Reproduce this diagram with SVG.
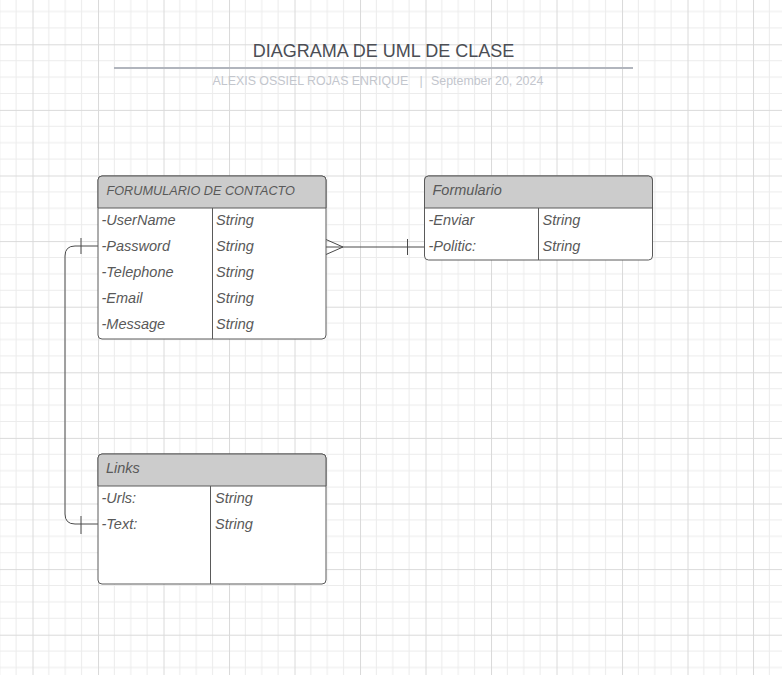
<svg xmlns="http://www.w3.org/2000/svg" width="782" height="675" viewBox="0 0 782 675">
<defs>
<pattern id="grid" patternUnits="userSpaceOnUse" x="32.5" y="44.3" width="65.5" height="65.6">
<rect width="65.5" height="65.6" fill="#ffffff"/>
<path d="M16.375 0V65.6M32.75 0V65.6M49.125 0V65.6M0 16.4H65.5M0 32.8H65.5M0 49.2H65.5" stroke="#ececec" stroke-width="1" fill="none"/>
<path d="M0.5 0V65.6M0 0.5H65.5" stroke="#dadada" stroke-width="1" fill="none"/>
</pattern>
<style>
.box{fill:#ffffff;stroke:#5a5a5a;stroke-width:1}
.hdr{fill:#cccccc;stroke:#5a5a5a;stroke-width:1}
.sep{stroke:#5a5a5a;stroke-width:1;fill:none}
.t{font-family:"Liberation Sans",Arial,sans-serif;font-style:italic;font-size:14.5px;fill:#595959}
.h{font-family:"Liberation Sans",Arial,sans-serif;font-style:italic;font-size:14.5px;fill:#595959}
.conn{stroke:#4a4a4a;stroke-width:1;fill:none}
</style>
</defs>
<rect width="782" height="675" fill="url(#grid)"/>
<g id="title">
<text x="383.5" y="57" text-anchor="middle" font-family="'Liberation Sans',Arial,sans-serif" font-size="18" fill="#4b4e55">DIAGRAMA DE UML DE CLASE</text>
<line x1="114" y1="68" x2="633" y2="68" stroke="#b1b5bd" stroke-width="2"/>
<text y="84.5" font-family="'Liberation Sans',Arial,sans-serif" font-size="12.4" fill="#c3c6cd"><tspan x="212.5">ALEXIS OSSIEL ROJAS ENRIQUE</tspan><tspan x="419.5">|</tspan><tspan x="431">September 20, 2024</tspan></text>
</g>
<g id="connectors">
<path class="conn" d="M326 247H424"/>
<path class="conn" d="M326 239.5L343 247L326 254.5"/>
<path class="conn" d="M407.5 239V255"/>
<path class="conn" d="M98 246H75Q65 246 65 256V514Q65 524 75 524H98"/>
<path class="conn" d="M81 238V254"/>
<path class="conn" d="M81 516V534"/>
</g>
<g id="node-contacto">
<rect class="box" x="98" y="176" width="228" height="163" rx="4"/>
<path class="hdr" d="M102 176H322A4 4 0 0 1 326 180V208H98V180A4 4 0 0 1 102 176Z"/>
<line class="sep" x1="212.5" y1="208" x2="212.5" y2="339"/>
<text x="106.5" y="195" class="h" style="font-size:12.7px">FORUMULARIO DE CONTACTO</text>
<text class="t" x="101.5" y="225">-UserName</text><text class="t" x="216" y="225">String</text>
<text class="t" x="101.5" y="251">-Password</text><text class="t" x="216" y="251">String</text>
<text class="t" x="101.5" y="277">-Telephone</text><text class="t" x="216" y="277">String</text>
<text class="t" x="101.5" y="303">-Email</text><text class="t" x="216" y="303">String</text>
<text class="t" x="101.5" y="329">-Message</text><text class="t" x="216" y="329">String</text>
</g>
<g id="node-formulario">
<rect class="box" x="424.5" y="176" width="228" height="84" rx="4"/>
<path class="hdr" d="M428.5 176H648.5A4 4 0 0 1 652.5 180V208H424.5V180A4 4 0 0 1 428.5 176Z"/>
<line class="sep" x1="538.5" y1="208" x2="538.5" y2="260"/>
<text x="432.5" y="195" class="h">Formulario</text>
<text class="t" x="428.5" y="225">-Enviar</text><text class="t" x="542.5" y="225">String</text>
<text class="t" x="428.5" y="251">-Politic:</text><text class="t" x="542.5" y="251">String</text>
</g>
<g id="node-links">
<rect class="box" x="98" y="454" width="228" height="130" rx="4"/>
<path class="hdr" d="M102 454H322A4 4 0 0 1 326 458V486H98V458A4 4 0 0 1 102 454Z"/>
<line class="sep" x1="210.5" y1="486" x2="210.5" y2="584"/>
<text x="106" y="473" class="h">Links</text>
<text class="t" x="101.5" y="503">-Urls:</text><text class="t" x="215" y="503">String</text>
<text class="t" x="101.5" y="529">-Text:</text><text class="t" x="215" y="529">String</text>
</g>
</svg>
